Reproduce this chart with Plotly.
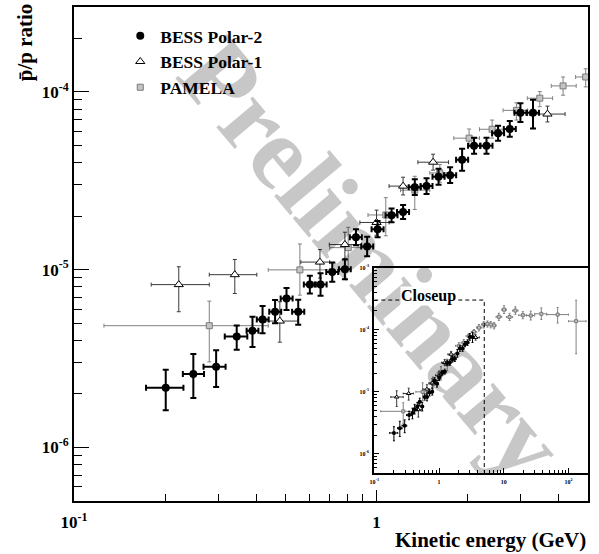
import numpy as np
import plotly.graph_objects as go

E6 = 1e-6  # ratios below are listed in units of 1e-6

# ---------------- BESS Polar-2 ----------------
bp2_x = [0.201, 0.248, 0.295, 0.345, 0.389, 0.420, 0.462, 0.504, 0.551, 0.602,
         0.653, 0.714, 0.786, 0.855, 0.931, 1.008, 1.121, 1.224, 1.338, 1.463,
         1.603, 1.751, 1.918, 2.101, 2.309, 2.522, 2.757, 2.990, 3.290]
bp2_lo = [0.173, 0.229, 0.268, 0.315, 0.372, 0.402, 0.442, 0.482, 0.526, 0.575,
          0.624, 0.682, 0.751, 0.816, 0.890, 0.963, 1.071, 1.169, 1.278, 1.398,
          1.531, 1.673, 1.832, 2.007, 2.206, 2.410, 2.634, 2.857, 3.143]
bp2_hi = [0.230, 0.269, 0.317, 0.374, 0.407, 0.440, 0.484, 0.528, 0.577, 0.630,
          0.684, 0.747, 0.822, 0.894, 0.975, 1.055, 1.173, 1.281, 1.400, 1.531,
          1.678, 1.833, 2.008, 2.199, 2.417, 2.640, 2.886, 3.130, 3.444]
bp2_y = [2.17, 2.59, 2.84, 4.21, 4.53, 5.25, 5.80, 6.88, 5.80, 8.24,
         8.24, 9.69, 10.04, 15.2, 13.49, 16.9, 20.2, 21.1, 29.1, 29.5,
         33.3, 34.0, 41.5, 49.7, 49.7, 58.5, 61.9, 76.4, 76.4]
bp2_up = [0.57, 0.76, 0.68, 0.64, 0.91, 1.00, 0.94, 1.00, 0.97, 1.00,
          1.30, 1.29, 1.37, 1.70, 1.80, 1.90, 1.90, 2.00, 3.10, 3.20,
          3.60, 3.70, 6.30, 5.40, 5.40, 5.90, 6.70, 9.90, 13.9]
bp2_dn = [0.55, 0.69, 0.65, 0.66, 0.86, 0.86, 0.81, 0.95, 0.90, 0.90,
          1.10, 1.14, 1.20, 1.50, 1.60, 1.70, 1.70, 1.80, 2.80, 2.90,
          3.30, 3.30, 5.50, 4.90, 4.90, 5.40, 6.00, 8.80, 14.2]

# ---------------- BESS Polar-1 ----------------
bp1_x = [0.222, 0.340, 0.479, 0.650, 0.786, 1.000, 1.224, 1.538, 3.673]
bp1_lo = [0.180, 0.280, 0.430, 0.562, 0.698, 0.881, 1.100, 1.370, 3.200]
bp1_hi = [0.280, 0.402, 0.550, 0.700, 0.892, 1.100, 1.340, 1.730, 4.200]
bp1_y = [8.24, 9.37, 5.14, 11.03, 13.84, 18.42, 29.5, 40.2, 75.0]
bp1_up = [2.14, 2.04, 1.46, 1.94, 2.40, 3.20, 3.60, 4.40, 8.10]
bp1_dn = [2.44, 2.03, 1.23, 2.06, 2.30, 2.80, 3.20, 3.90, 7.30]

# ---------------- PAMELA ----------------
pam_x = [0.280, 0.558, 0.806, 1.073, 1.338, 1.619, 2.023, 2.410, 2.900, 3.464,
         4.136, 4.913, 5.60, 6.30, 7.10, 8.40, 10.1, 12.3, 15.1, 19.7,
         26.1, 38.0, 68.0, 131.0]
pam_lo = [0.1256, 0.4385, 0.700, 0.937, 1.200, 1.500, 1.800, 2.190, 2.620, 3.150,
          3.780, 4.550, 5.25, 5.95, 6.70, 7.60, 9.30, 11.0, 13.7, 17.0,
          22.5, 30.0, 46.0, 100.0]
pam_hi = [0.4385, 0.700, 0.937, 1.160, 1.500, 1.750, 2.190, 2.690, 3.160, 3.820,
          4.570, 5.250, 5.95, 6.70, 7.60, 9.30, 11.0, 13.7, 16.6, 22.5,
          30.0, 46.0, 100.0, 187.0]
pam_y = [4.84, 9.97, 13.3, 20.3, 28.0, 35.0, 54.9, 61.6, 78.7, 92.1,
         108.0, 121.2, 124.0, 121.0, 117.0, 161.0, 210.0, 160.0, 203.0, 171.0,
         169.0, 180.0, 175.0, 137.0]
pam_up = [1.81, 3.97, 4.00, 5.10, 5.50, 4.00, 6.90, 7.80, 8.10, 8.20,
          13.2, 13.6, 14.0, 14.0, 14.0, 23.0, 33.0, 23.0, 31.0, 24.0,
          30.0, 44.0, 53.0, 161.0]
pam_dn = [1.81, 2.78, 3.20, 4.80, 6.20, 4.00, 5.60, 6.70, 9.30, 9.60,
          12.3, 14.6, 14.0, 14.0, 14.0, 20.0, 28.0, 20.0, 27.0, 21.0,
          26.0, 34.0, 47.0, 96.0]

# ranges (the close-up window is the main panel's range)
CLOSEUP_X = (0.1, 5.0)
CLOSEUP_Y = (5e-7, 3e-4)
INSET_X = (0.1, 200.0)
INSET_Y = (5e-7, 1e-3)

FONT = "Liberation Serif"


def series(x, lo, hi, y, up, dn):
    x = np.asarray(x)
    return dict(
        x=x,
        y=np.asarray(y) * E6,
        ex_plus=np.asarray(hi) - x,
        ex_minus=x - np.asarray(lo),
        ey_plus=np.asarray(up) * E6,
        ey_minus=np.asarray(dn) * E6,
    )


BP2 = series(bp2_x, bp2_lo, bp2_hi, bp2_y, bp2_up, bp2_dn)
BP1 = series(bp1_x, bp1_lo, bp1_hi, bp1_y, bp1_up, bp1_dn)
PAM = series(pam_x, pam_lo, pam_hi, pam_y, pam_up, pam_dn)

styles = {
    "PAMELA": dict(data=PAM, symbol="square", size=(6, 3), color="#c4c4c4",
                   line="#7a7a7a", bar="#808080", barw=(1, 1), cap=(2, 1), rank=3),
    "BESS Polar-1": dict(data=BP1, symbol="triangle-up", size=(8, 4), color="white",
                         line="black", bar="#3a3a3a", barw=(1, 1), cap=(2, 1), rank=2),
    "BESS Polar-2": dict(data=BP2, symbol="circle", size=(8, 4), color="black",
                         line="black", bar="black", barw=(2, 1), cap=(3, 1), rank=1),
}

fig = go.Figure()

for panel, (xa, ya) in enumerate([("x", "y"), ("x2", "y2")]):
    for name, st in styles.items():
        d = st["data"]
        fig.add_trace(go.Scatter(
            x=d["x"], y=d["y"], mode="markers", name=name,
            xaxis=xa, yaxis=ya,
            showlegend=(panel == 0), legendrank=st["rank"],
            marker=dict(symbol=st["symbol"], size=st["size"][panel],
                        color=st["color"],
                        line=dict(color=st["line"], width=1 if st["symbol"] != "circle" else 0)),
            error_x=dict(type="data", symmetric=False, array=d["ex_plus"],
                         arrayminus=d["ex_minus"], color=st["bar"],
                         thickness=st["barw"][panel], width=st["cap"][panel]),
            error_y=dict(type="data", symmetric=False, array=d["ey_plus"],
                         arrayminus=d["ey_minus"], color=st["bar"],
                         thickness=st["barw"][panel], width=st["cap"][panel]),
        ))

# close-up window outline inside the inset
fig.add_trace(go.Scatter(
    x=[CLOSEUP_X[0], CLOSEUP_X[1], CLOSEUP_X[1]],
    y=[CLOSEUP_Y[1], CLOSEUP_Y[1], CLOSEUP_Y[0]],
    mode="lines", xaxis="x2", yaxis="y2", showlegend=False,
    line=dict(color="black", width=1, dash="4px,3px"),
))


def minor_vals(e0, e1):
    return [m * 10.0 ** e for e in range(e0, e1) for m in range(2, 10)]


def sup(e):
    return "1" if e == 0 else ("10" if e == 1 else f"10<sup>{e}</sup>")


bold = dict(family=FONT, color="black", weight="bold")

main_x = dict(
    type="log", range=[np.log10(CLOSEUP_X[0]), np.log10(CLOSEUP_X[1])],
    domain=[0, 1], anchor="y",
    showline=True, linecolor="black", linewidth=2, mirror=True,
    showgrid=False, zeroline=False,
    ticks="inside", ticklen=11, tickwidth=1, tickcolor="black",
    tickvals=[0.1, 1], ticktext=[sup(-1), sup(0)],
    tickfont=dict(size=17, **bold), ticklabelstandoff=5,
    minor=dict(ticks="inside", ticklen=7, tickwidth=1, tickcolor="black",
               tickvals=minor_vals(-1, 1), showgrid=False),
)
main_y = dict(
    type="log", range=[np.log10(CLOSEUP_Y[0]), np.log10(CLOSEUP_Y[1])],
    domain=[0, 1], anchor="x",
    showline=True, linecolor="black", linewidth=2, mirror=True,
    showgrid=False, zeroline=False,
    ticks="inside", ticklen=15, tickwidth=1, tickcolor="black",
    tickvals=[1e-6, 1e-5, 1e-4], ticktext=[sup(-6), sup(-5), sup(-4)],
    tickfont=dict(size=17, **bold), ticklabelstandoff=0,
    minor=dict(ticks="inside", ticklen=8, tickwidth=1, tickcolor="black",
               tickvals=minor_vals(-7, -3), showgrid=False),
)
inset_x = dict(
    type="log", range=[np.log10(INSET_X[0]), np.log10(INSET_X[1])],
    domain=[0.5842, 1.0], anchor="y2",
    showline=True, linecolor="black", linewidth=2, mirror=True,
    showgrid=False, zeroline=False,
    ticks="inside", ticklen=5, tickwidth=1, tickcolor="black",
    tickvals=[0.1, 1, 10, 100], ticktext=[sup(-1), sup(0), sup(1), sup(2)],
    tickfont=dict(size=6, **bold), ticklabelstandoff=2,
    minor=dict(ticks="inside", ticklen=3, tickwidth=1, tickcolor="black",
               tickvals=minor_vals(-1, 3), showgrid=False),
)
inset_y = dict(
    type="log", range=[np.log10(INSET_Y[0]), np.log10(INSET_Y[1])],
    domain=[0.0576, 0.4725], anchor="x2",
    showline=True, linecolor="black", linewidth=2, mirror=True,
    showgrid=False, zeroline=False,
    ticks="inside", ticklen=5, tickwidth=1, tickcolor="black",
    tickvals=[1e-6, 1e-5, 1e-4, 1e-3], ticktext=[sup(-6), sup(-5), sup(-4), sup(-3)],
    tickfont=dict(size=6, **bold), ticklabelstandoff=2,
    minor=dict(ticks="inside", ticklen=3, tickwidth=1, tickcolor="black",
               tickvals=minor_vals(-7, -3), showgrid=False),
)

fig.update_layout(
    width=599, height=554,
    margin=dict(l=74, r=11, t=3, b=53),
    paper_bgcolor="white", plot_bgcolor="white",
    xaxis=main_x, yaxis=main_y, xaxis2=inset_x, yaxis2=inset_y,
    showlegend=True,
    legend=dict(x=0.09, y=0.978, xanchor="left", yanchor="top",
                bgcolor="rgba(0,0,0,0)", borderwidth=0,
                font=dict(size=17.5, **bold), itemwidth=30,
                tracegroupgap=0),
    annotations=[
        dict(text="<b>Preliminary</b>", xref="paper", yref="paper", x=0.581, y=0.49,
             xanchor="center", yanchor="middle", textangle=50, showarrow=False,
             font=dict(family=FONT, size=104, color="rgba(0,0,0,0.22)")),
        dict(text="<b>p\u0304/p ratio</b>", xref="paper", yref="paper",
             x=-0.095, y=1.012, xanchor="center", yanchor="top", textangle=-90,
             showarrow=False, font=dict(family=FONT, size=21, color="black")),
        dict(text="<b>Kinetic energy (GeV)</b>", xref="paper", yref="paper",
             x=1.0, y=-0.078, xanchor="right", yanchor="middle", showarrow=False,
             font=dict(family=FONT, size=21, color="black")),
        dict(text="<b>Closeup</b>", xref="x2", yref="y2",
             x=np.log10(0.68), y=np.log10(3.5e-4), xanchor="center", yanchor="middle",
             showarrow=False, bgcolor="white", borderpad=0,
             font=dict(family=FONT, size=16, color="black")),
    ],
)

fig.write_html("out.html")
